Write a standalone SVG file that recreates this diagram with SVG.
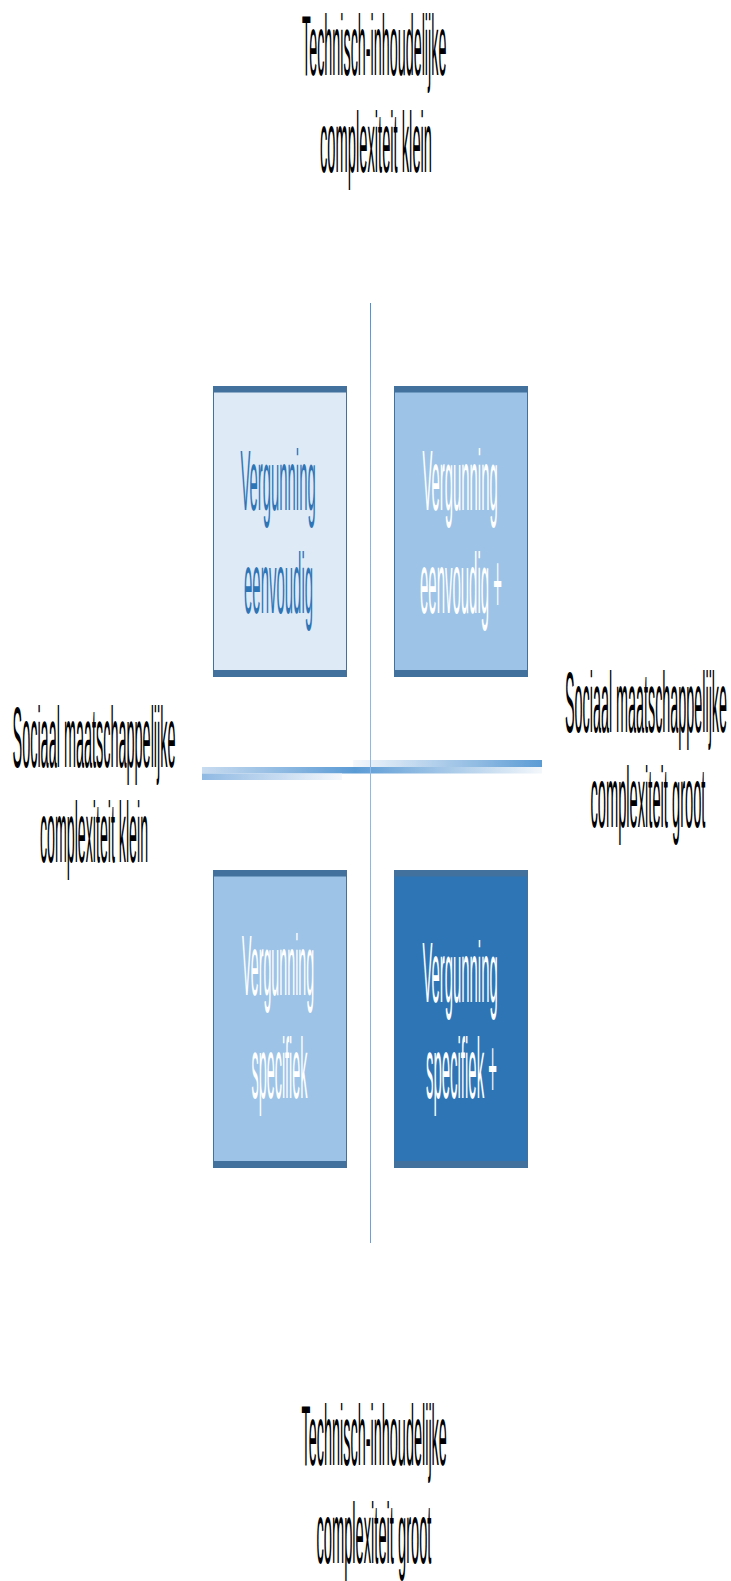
<svg xmlns="http://www.w3.org/2000/svg" width="731" height="1581" viewBox="0 0 731 1581">
<style>
  text { font-family: "Liberation Sans", Arial, sans-serif; font-size: 86px; }
  .lbl { fill: #000000; }
  .wt { fill: #FFFFFF; }
  .bt { fill: #2E75B6; }
  .bar { fill: #41719C; }
  .edge { stroke: #41719C; stroke-width: 1; }
</style>
<defs>
  <linearGradient id="vline" x1="0" y1="303" x2="0" y2="1243" gradientUnits="userSpaceOnUse">
    <stop offset="0" stop-color="#4A90D9"/>
    <stop offset="0.1" stop-color="#7FB2E2"/>
    <stop offset="0.5" stop-color="#8DBBE6"/>
    <stop offset="0.9" stop-color="#7FB2E2"/>
    <stop offset="1" stop-color="#6A9FD5"/>
  </linearGradient>
  <linearGradient id="midRow" x1="202" y1="0" x2="542" y2="0" gradientUnits="userSpaceOnUse">
    <stop offset="0" stop-color="#C9DCF0"/>
    <stop offset="0.45" stop-color="#5B9BD5"/>
    <stop offset="1" stop-color="#F3F7FB"/>
  </linearGradient>
  <linearGradient id="topRow" x1="353" y1="0" x2="542" y2="0" gradientUnits="userSpaceOnUse">
    <stop offset="0" stop-color="#F5F8FC"/>
    <stop offset="1" stop-color="#5B9BD5"/>
  </linearGradient>
  <linearGradient id="botRow" x1="202" y1="0" x2="342" y2="0" gradientUnits="userSpaceOnUse">
    <stop offset="0" stop-color="#8FB9E3"/>
    <stop offset="1" stop-color="#F5F8FC"/>
  </linearGradient>
</defs>
<rect width="731" height="1581" fill="#FFFFFF"/>

<g id="connectors">
  <rect x="353" y="760" width="189" height="7" fill="url(#topRow)"/>
  <rect x="202" y="767" width="340" height="6.5" fill="url(#midRow)"/>
  <rect x="202" y="773.5" width="140" height="6.5" fill="url(#botRow)"/>
  <rect x="370" y="303" width="1" height="940" fill="url(#vline)"/>
</g>

<g id="box-eenvoudig">
  <rect x="213.5" y="386.5" width="133" height="290" fill="#DEEAF6" class="edge"/>
  <rect class="bar" x="213" y="386" width="134" height="6.5"/>
  <rect class="bar" x="213" y="670" width="134" height="6.5"/>
  <text class="bt" transform="translate(240.5 510) scale(0.1728 1)">Vergunning</text>
  <text class="bt" transform="translate(244 613) scale(0.1739 1)">eenvoudig</text>
</g>

<g id="box-eenvoudig-plus">
  <rect x="394.5" y="386.5" width="133" height="290" fill="#9DC3E6" class="edge"/>
  <rect class="bar" x="394" y="386" width="134" height="6.5"/>
  <rect class="bar" x="394" y="670" width="134" height="6.5"/>
  <text class="wt" transform="translate(422.5 510) scale(0.1728 1)">Vergunning</text>
  <text class="wt" transform="translate(420 613) scale(0.1741 1)">eenvoudig +</text>
</g>

<g id="box-specifiek">
  <rect x="213.5" y="870.5" width="133" height="297" fill="#9DC3E6" class="edge"/>
  <rect class="bar" x="213" y="870" width="134" height="6.5"/>
  <rect class="bar" x="213" y="1161" width="134" height="6.5"/>
  <text class="wt" transform="translate(242 995) scale(0.166 1)">Vergunning</text>
  <text class="wt" transform="translate(251.5 1098) scale(0.1674 1)">specifiek</text>
</g>

<g id="box-specifiek-plus">
  <rect x="394.5" y="870.5" width="133" height="297" fill="#2E75B6" class="edge"/>
  <rect class="bar" x="394" y="870" width="134" height="6.5"/>
  <rect class="bar" x="394" y="1161" width="134" height="6.5"/>
  <text class="wt" transform="translate(422.5 1001.5) scale(0.1728 1)">Vergunning</text>
  <text class="wt" transform="translate(426 1098) scale(0.1737 1)">specifiek +</text>
</g>

<g id="label-top">
  <text class="lbl" transform="translate(302 75) scale(0.1669 1)">Technisch-inhoudelijke</text>
  <text class="lbl" transform="translate(320 172) scale(0.1711 1)">complexiteit klein</text>
</g>

<g id="label-left">
  <text class="lbl" transform="translate(12.5 767) scale(0.168 1)">Sociaal maatschappelijke</text>
  <text class="lbl" transform="translate(40 862) scale(0.165 1)">complexiteit klein</text>
</g>

<g id="label-right">
  <text class="lbl" transform="translate(565 732) scale(0.167 1)">Sociaal maatschappelijke</text>
  <text class="lbl" transform="translate(590.5 827) scale(0.1706 1)">complexiteit groot</text>
</g>

<g id="label-bottom">
  <text class="lbl" transform="translate(301.5 1465) scale(0.168 1)">Technisch-inhoudelijke</text>
  <text class="lbl" transform="translate(316.5 1563) scale(0.1706 1)">complexiteit groot</text>
</g>
</svg>
